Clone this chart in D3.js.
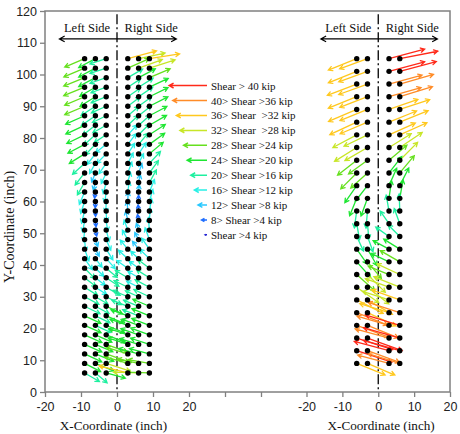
<!DOCTYPE html>
<html>
<head>
<meta charset="utf-8">
<script src="https://cdn.jsdelivr.net/npm/d3@7"></script>
<style>
  body { margin: 0; background: #fff; }
  text { font-family: "Liberation Serif", "Times New Roman", serif; fill: #111; }
  .tick text { font-family: "Liberation Sans", Arial, sans-serif; font-size: 12.5px; fill: #222; }
</style>
</head>
<body>
<svg id="chart" width="460" height="434"></svg>
<script>
// bolt rows (inch) and columns, left chart
const rowsL = [105,102,99,96,93,90,87,84,81,78,75,72,69,66,63,60,57,54,51,48,45,42,39,36,33,30,27,24,21,18,15,12,9,6];
const colsL = [-9, -6, -3, 3, 6, 9];
// shear per bolt (kip), one row per bolt row
const shearL = [
  [24,21,19,33,30,34],[25,21,19,26,28,30],[25,21,19,19,21,25],[25,20,18,17,19,23],
  [24,20,18,17,19,23],[24,19,18,17,18,23],[23,19,17,16,18,22],[23,18,17,16,17,22],
  [22,17,16,15,17,21],[21,16,15,15,16,21],[20,15,15,14,15,20],[18,13,14,13,12,18],
  [17,11,13,13,11,17],[16,9,13,12,9,16],[15,7,12,12,8,15],[14,7,12,11,7,14],
  [14,6,12,11,7,14],[13,7,12,11,7,14],[13,7,13,12,8,14],[13,8,13,12,9,14],
  [14,9,14,13,11,15],[15,12,15,14,12,15],[16,13,16,15,13,16],[16,14,17,16,14,17],
  [17,15,18,17,15,18],[18,16,19,18,16,19],[19,17,20,19,18,20],[20,18,21,20,19,21],
  [20,19,22,21,20,21],[21,20,23,22,21,22],[21,21,25,23,22,22],[21,22,27,25,23,23],
  [20,22,28,27,24,24],[19,17,22,33,28,26]
];
// direction of the force (degrees, counter-clockwise from +x)
const angleL = [
  [203,208,198,15,12,9],[203,208,198,24,20,18],[202,208,199,30,28,23],[202,210,200,33,32,25],
  [203,212,202,35,34,26],[203,213,204,37,36,27],[204,215,206,40,38,28],[205,218,209,43,41,30],
  [206,222,213,47,45,33],[208,226,218,52,50,36],[212,232,225,57,56,40],[222,240,235,63,63,47],
  [232,248,245,70,70,54],[240,255,255,76,78,61],[247,262,262,82,85,68],[252,268,268,88,90,74],
  [256,272,272,94,95,80],[260,276,278,102,100,86],[265,282,285,110,108,95],[275,290,293,120,118,110],
  [290,298,302,130,128,125],[305,308,312,138,137,136],[315,316,320,145,144,143],[322,322,326,150,149,148],
  [328,327,330,154,153,152],[332,330,333,157,156,155],[334,332,335,159,158,157],[335,334,337,160,159,158],
  [336,335,338,161,160,159],[336,336,339,162,161,160],[336,337,340,162,163,162],[335,338,340,163,165,165],
  [333,338,342,164,168,170],[330,320,345,166,178,178]
];

// right chart
const rowsR = [105,101,97,93,89,85,81,77,73,69,65,61,57,53,49,45,41,37,33,29,25,21,17,13,9];
const colsR = [-6, -3, 3, 6];
const shearR = [
  [34,33,41,43],[34,34,41,42],[35,34,38,39],[34,33,37,38],[34,33,34,35],
  [33,33,33,34],[30,29,32,33],[29,29,29,30],[27,26,26,28],[25,25,23,25],
  [23,22,21,22],[21,21,20,21],[19,19,18,19],[18,17,17,18],[18,18,18,18],
  [20,21,20,21],[23,24,22,25],[27,28,25,28],[30,30,28,31],[33,32,31,33],
  [37,35,34,37],[38,37,37,40],[42,41,39,42],[41,38,40,42],[34,33,36,37]
];
const angleR = [
  [202,200,15,11],[202,200,15,15],[201,200,15,16],[202,201,16,17],[203,202,19,18],
  [205,203,22,22],[208,206,24,24],[212,210,32,34],[218,216,40,45],[225,222,52,50],
  [235,232,66,63],[248,250,82,80],[262,265,100,92],[280,275,125,110],[295,290,145,135],
  [305,300,152,148],[312,310,155,150],[318,315,158,155],[325,322,160,158],[333,330,162,160],
  [338,335,163,162],[340,338,164,163],[342,340,165,164],[342,340,165,164],[338,337,165,163]
];

const yTicks = [0,10,20,30,40,50,60,70,80,90,100,110,120];
const xTicksL = [-20,-10,0,10,20,30,40];
const xTicksR = [-20,-10,0,10,20];
const xLabelsShown = [-20,-10,0,10,20];

const binEdges = [4,8,12,16,20,24,28,32,36,40];
const binColors = ["#1e1ed2","#1e6eff","#28c8ff","#28f0e6","#1ef0a0","#1ee632","#66e01e","#c8e628","#ffc81e","#ff8c28","#ff2a1a"];
const legendShear = [42,38,34,30,26,22,18,14,10,6,2];
const legendLabels = ["Shear > 40 kip","40> Shear >36 kip","36> Shear  >32 kip","32> Shear  >28 kip",
  "28> Shear >24 kip","24> Shear >20 kip","20> Shear >16 kip","16> Shear >12 kip",
  "12> Shear >8 kip","8> Shear >4 kip","Shear >4 kip"];

const svg = d3.select("#chart");

const y = d3.scaleLinear().domain([0, 120]).range([392, 11]);
const xL = d3.scaleLinear().domain([-20, 40]).range([45, 261]);
const xR = d3.scaleLinear().domain([-20, 20]).range([306.5, 450]);
const len = d3.scaleLinear().domain([0, 45]).range([0, 40.5]);
const color = d3.scaleThreshold().domain(binEdges).range(binColors);

function arrowPath(x0, y0, L, deg, head) {
  const a = deg * Math.PI / 180;
  const x1 = x0 + L * Math.cos(a), y1 = y0 - L * Math.sin(a);
  const h = Math.min(head, L * 0.6), w = 0.5;
  const b1 = a + Math.PI - w, b2 = a + Math.PI + w;
  return `M${x0},${y0}L${x1},${y1}M${x1 + h * Math.cos(b1)},${y1 - h * Math.sin(b1)}L${x1},${y1}L${x1 + h * Math.cos(b2)},${y1 - h * Math.sin(b2)}`;
}

// frame
svg.append("rect")
  .attr("x", 45).attr("y", 11).attr("width", 405).attr("height", 381)
  .attr("fill", "none").attr("stroke", "#808080").attr("stroke-width", 1.5);

// axes
const fmt = d => xLabelsShown.includes(d) ? String(d) : "";
function styleAxis(g) {
  g.select(".domain").remove();
  g.selectAll(".tick line").attr("stroke", "#808080").attr("stroke-width", 1.3);
}
svg.append("g").attr("transform", "translate(45,0)")
  .call(d3.axisLeft(y).tickValues(yTicks).tickFormat(d => String(d)).tickSize(5).tickPadding(3))
  .call(styleAxis);
svg.append("g").attr("transform", "translate(0,392)")
  .call(d3.axisBottom(xL).tickValues(xTicksL).tickFormat(fmt).tickSize(5).tickPadding(5))
  .call(styleAxis);
svg.append("g").attr("transform", "translate(0,392)")
  .call(d3.axisBottom(xR).tickValues(xTicksR).tickFormat(fmt).tickSize(5).tickPadding(5))
  .call(styleAxis);

// axis titles
svg.append("text").attr("transform", `translate(14,${y(52)}) rotate(-90)`)
  .attr("text-anchor", "middle").attr("font-size", 14).text("Y-Coordinate (inch)");
svg.append("text").attr("x", xL(-1)).attr("y", 430)
  .attr("text-anchor", "middle").attr("font-size", 13.2).text("X-Coordinate (inch)");
svg.append("text").attr("x", xR(0.8)).attr("y", 430)
  .attr("text-anchor", "middle").attr("font-size", 13.2).text("X-Coordinate (inch)");

function drawPanel(x, rows, cols, shear, angle) {
  const g = svg.append("g");

  // centre line
  g.append("line")
    .attr("x1", x(0)).attr("x2", x(0)).attr("y1", y(119)).attr("y2", y(0))
    .attr("stroke", "#000").attr("stroke-width", 1.3).attr("stroke-dasharray", "10,3,2,3");

  // Left Side / Right Side
  const yA = y(111.2);
  g.append("path")
    .attr("d", arrowPath(x(0), yA, x(0) - x(-16), 180, 6) + arrowPath(x(0), yA, x(16.5) - x(0), 0, 6))
    .attr("fill", "none").attr("stroke", "#000").attr("stroke-width", 1.2);
  g.append("text").attr("x", x(-1.9)).attr("y", y(113.3)).attr("text-anchor", "end")
    .attr("font-size", 12.5).text("Left Side");
  g.append("text").attr("x", x(2.1)).attr("y", y(113.3)).attr("text-anchor", "start")
    .attr("font-size", 12.5).text("Right Side");

  const bolts = [];
  rows.forEach((r, i) => cols.forEach((c, j) => {
    bolts.push({ cx: x(c), cy: y(r), v: shear[i][j], a: angle[i][j] });
  }));

  g.append("g").selectAll("path").data(bolts).join("path")
    .attr("d", d => arrowPath(d.cx, d.cy, len(d.v), d.a, 4.5))
    .attr("fill", "none")
    .attr("stroke", d => color(d.v))
    .attr("stroke-width", 1.3)
    .attr("stroke-linecap", "round");

  g.append("g").selectAll("circle").data(bolts).join("circle")
    .attr("cx", d => d.cx).attr("cy", d => d.cy).attr("r", 2.7).attr("fill", "#000");
}

drawPanel(xL, rowsL, colsL, shearL, angleL);
drawPanel(xR, rowsR, colsR, shearR, angleR);

// legend
const leg = svg.append("g").selectAll("g").data(legendShear).join("g")
  .attr("transform", (d, i) => `translate(0,${y(96.5 - i * 4.7)})`);
leg.append("path")
  .attr("d", d => arrowPath(xL(25), 0, len(d), 180, 5))
  .attr("fill", "none").attr("stroke", d => color(d)).attr("stroke-width", 1.5);
leg.append("text")
  .attr("x", xL(26.1)).attr("y", 4)
  .attr("font-size", 11).style("white-space", "pre")
  .text((d, i) => legendLabels[i]);
</script>
</body>
</html>
